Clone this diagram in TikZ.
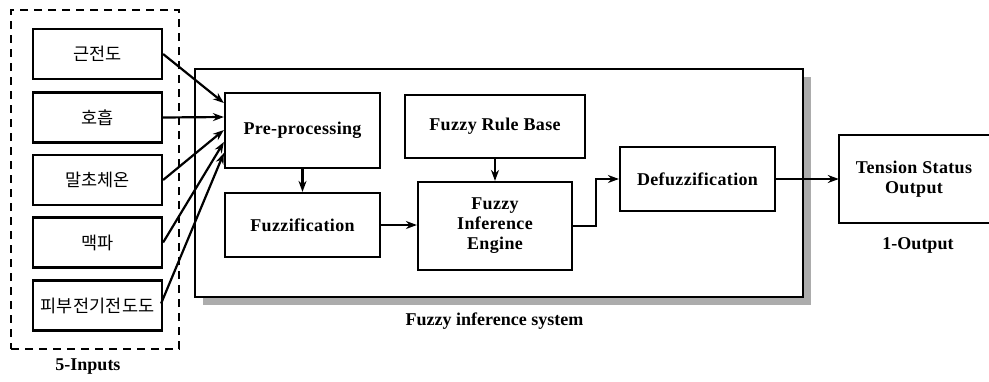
\documentclass[tikz,border=0pt]{standalone}
\usepackage{fontspec}
\setmainfont[LetterSpace=2]{Liberation Serif}
\newfontfamily\krfont[LetterSpace=1]{Noto Sans CJK KR}
\newfontfamily\lblfont{Liberation Serif}
\usetikzlibrary{arrows.meta,calc,shadows}
\begin{document}
\begin{tikzpicture}[x=1pt,y=-1pt,
  lw/.style={line width=2.2pt},
  box/.style={draw, lw, fill=white, font=\bfseries\fontsize{18}{20}\selectfont, align=center, inner sep=0pt},
  inbox/.style={draw, lw, fill=white, font=\krfont\fontsize{17.5}{20}\selectfont, inner sep=0pt, minimum width=129pt, minimum height=50pt},
  arr/.style={lw, -{Stealth[length=11pt,width=8pt]}},
  lbl/.style={font=\bfseries\lblfont\fontsize{18}{20}\selectfont}]
\useasboundingbox (0,0) rectangle (989,381);

% outer dashed group of inputs
\node[draw, line width=1.8pt, dash pattern=on 8pt off 6pt, minimum width=168pt, minimum height=339pt, inner sep=0pt] (grp) at (95,179.5) {};
\node[lbl] (inlbl) at (88,367) {5-Inputs};

% main system box with shadow
\node[draw, lw, fill=white, minimum width=608pt, minimum height=228pt, inner sep=0pt,
      general shadow={shadow xshift=7.5pt, shadow yshift=-8pt, fill=gray!65}] (fis) at (499,183) {};
\node[lbl] (fislbl) at (494.5,321) {Fuzzy inference system};

% input boxes
\node[inbox] (in1) at (97.5,54) {근전도};
\node[inbox] (in2) at (97.5,117.5) {호흡};
\node[inbox] (in3) at (97.5,180) {말초체온};
\node[inbox] (in4) at (97.5,242.5) {맥파};
\node[inbox] (in5) at (97.5,305.5) {피부전기전도도};

% internal boxes
\node[box, minimum width=155pt, minimum height=75pt] (pre) at (302.5,130.5) {Pre-processing};
\node[box, minimum width=155pt, minimum height=64pt] (fuz) at (302.5,225) {Fuzzification};
\node[box, minimum width=180pt, minimum height=63pt] (rule) at (495,126.5) {Fuzzy Rule Base};
\node[box, minimum width=154pt, minimum height=88pt] (fie) at (495,226) {Fuzzy\\Inference\\Engine};
\node[box, minimum width=155pt, minimum height=64pt] (def) at (697.5,179) {Defuzzification};

% output box (right side cut off by the page edge)
\node[font=\bfseries\fontsize{18}{20}\selectfont, align=center, minimum width=150pt, minimum height=88pt, inner sep=0pt] (ts) at (914,179) {Tension Status\\Output};
\draw[lw] (ts.north east) -- (ts.north west) -- (ts.south west) -- (ts.south east);
\node[lbl] (outlbl) at (918,245) {1-Output};

% connectors
\draw[arr] (in1.east) -- ([yshift=27.5pt]pre.west);
\draw[arr] (in2.east) -- ([yshift=13.5pt]pre.west);
\draw[arr] (in3.east) -- ([yshift=0.5pt]pre.west);
\draw[arr] (in4.east) -- ([yshift=-11.5pt]pre.west);
\draw[arr] ([xshift=-2pt,yshift=2pt]in5.east) -- ([yshift=-22.5pt]pre.west);
\draw[arr] (pre.south) -- (fuz.north);
\draw[arr] (fuz.east) -- (fuz.east -| fie.west);
\draw[arr] (rule.south) -- (fie.north);
\draw[arr] (fie.east) -| ($(fie.east)!.5!(def.west)$) |- (def.west);
\draw[arr] (def.east) -- (def.east -| ts.west);
\end{tikzpicture}
\end{document}
